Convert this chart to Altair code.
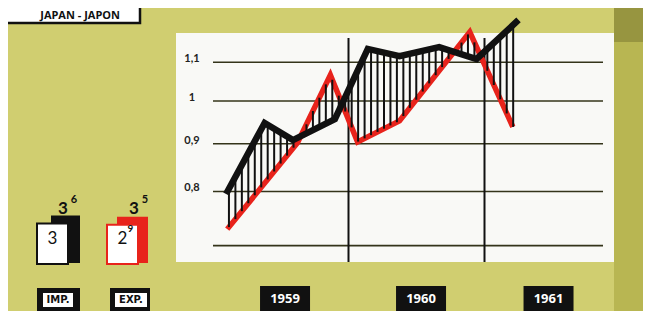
import altair as alt
import numpy as np
import pandas as pd

# ---------------- data (time = months since 1 Jan 1959) ----------------
imp_month = [1.2, 4.6, 7.1, 10.8, 13.7, 16.5, 20.0, 23.3, 27.0]
imp_index = [0.795, 0.947, 0.908, 0.956, 1.137, 1.117, 1.142, 1.109, 1.221]
exp_month = [1.3, 7.5, 10.4, 12.8, 16.5, 22.7, 26.5]
exp_index = [0.729, 0.902, 1.066, 0.904, 0.952, 1.185, 0.938]

grid_values = [1.1, 1.0, 0.9, 0.8, 0.7]
grid_labels = ["1,1", "1", "0,9", "0,8", ""]
years = ["1959", "1960", "1961"]
year_breaks = [12, 24]

legend_names = ["IMP.", "EXP."]
legend_prev = [3.0, 2.9]
legend_curr = [3.6, 3.5]
legend_colors = ["#111111", "#e8231b"]

title_text = "JAPAN - JAPON"

# ---------------- layout / style ----------------
BG = "#d0ce70"
PANEL = "#f9f9f6"
BLACK = "#111111"
RED = "#e8231b"
GRID_END_MONTH = 34.5

xsc = alt.Scale(domain=[0, 36], range=[204.5, 612.5], nice=False, zero=False)
ysc = alt.Scale(type="log", domain=[0.7, 1.1], range=[237.6, 54.3], nice=False)
lsc = alt.Scale(domain=[0, 3.6], range=[255, 207.5], nice=False, zero=False)

one = pd.DataFrame({"k": [0]})


def box(x, x2, y, y2, **kw):
    return alt.Chart(one).mark_rect(**kw).encode(
        x=alt.value(x), x2=alt.value(x2), y=alt.value(y), y2=alt.value(y2))


def label(text, x, y, **kw):
    return alt.Chart(one).mark_text(text=text, **kw).encode(
        x=alt.value(x), y=alt.value(y))


layers = []

# right darker strip and panel
layers.append(box(606, 635, 0, 303, color="#b8b652"))
layers.append(box(606, 635, 0, 34, color="#979540"))
layers.append(box(168, 606, 25, 254, color=PANEL))

# title box (top-left corner)
layers.append(box(-5, 132, -5, 15, fill="white", stroke=BLACK, strokeWidth=2.5))
layers.append(label(title_text, 112, 7.5, align="right", baseline="middle",
                    font="Open Sans", fontWeight="bold", fontSize=11, color=BLACK))

# gridlines
gdf = pd.DataFrame({"v": grid_values, "lab": grid_labels})
layers.append(alt.Chart(gdf).mark_rule(color="#34341a", strokeWidth=1.6).encode(
    x=alt.value(205), x2=alt.value(595),
    y=alt.Y("v:Q", scale=ysc, axis=None)))
layers.append(alt.Chart(gdf).mark_text(
    align="center", baseline="middle", dy=-3, fontSize=11, font="Lato",
    fontWeight="bold", color="#222222").encode(
    x=alt.value(184), y=alt.Y("v:Q", scale=ysc, axis=None), text="lab:N"))

# year separators
ydf = pd.DataFrame({"m": year_breaks})
layers.append(alt.Chart(ydf).mark_rule(color=BLACK, strokeWidth=2).encode(
    x=alt.X("m:Q", scale=xsc, axis=None), y=alt.value(30), y2=alt.value(254)))

# export line (red)
edf = pd.DataFrame({"m": exp_month, "v": exp_index})
layers.append(alt.Chart(edf).mark_line(color=RED, strokeWidth=5.5, strokeJoin="miter").encode(
    x=alt.X("m:Q", scale=xsc, axis=None), y=alt.Y("v:Q", scale=ysc, axis=None)))

# hatching between the two series
hx = np.arange(1.45, max(imp_month), 0.57)
htop = 10 ** np.interp(hx, imp_month, np.log10(imp_index))
hbot = 10 ** np.interp(hx, exp_month, np.log10(exp_index))
hdf = pd.DataFrame({"m": hx, "top": htop, "bot": hbot})
layers.append(alt.Chart(hdf).mark_rule(color=BLACK, strokeWidth=2).encode(
    x=alt.X("m:Q", scale=xsc, axis=None),
    y=alt.Y("top:Q", scale=ysc, axis=None), y2="bot:Q"))

# import line (black)
idf = pd.DataFrame({"m": imp_month, "v": imp_index})
layers.append(alt.Chart(idf).mark_line(color=BLACK, strokeWidth=6.5, strokeJoin="miter").encode(
    x=alt.X("m:Q", scale=xsc, axis=None), y=alt.Y("v:Q", scale=ysc, axis=None)))

# year labels in black boxes
mids = []
for i in range(len(years)):
    a = max(12 * i, 0)
    b = min(12 * i + 12, GRID_END_MONTH)
    mids.append((a + b) / 2 + 0.4)
yl = pd.DataFrame({"year": years, "mid": mids})
layers.append(alt.Chart(yl).mark_point(
    shape="M-1,-0.52L1,-0.52L1,0.52L-1,0.52Z", size=2500, filled=True,
    color=BLACK, opacity=1).encode(
    x=alt.X("mid:Q", scale=xsc, axis=None), y=alt.value(291)))
layers.append(alt.Chart(yl).mark_text(
    color="white", font="Open Sans", fontWeight="bold", fontSize=13,
    baseline="middle").encode(
    x=alt.X("mid:Q", scale=xsc, axis=None), y=alt.value(291), text="year:N"))

# legend icons (bar heights from values)
legend_layout = [
    dict(front=(29, 60), back=(43, 72), back_txt=55, tag=(29, 72, 35, 65), tagc=50),
    dict(front=(99, 130), back=(109, 140), back_txt=126, tag=(102, 142, 107, 139), tagc=123),
]


def split(v):
    s = f"{v:.1f}"
    a, b = s.split(".")
    return a, ("" if b == "0" else b)


for name, prev, curr, col, lay in zip(legend_names, legend_prev, legend_curr,
                                      legend_colors, legend_layout):
    ldf_b = pd.DataFrame({"v": [curr]})
    ldf_f = pd.DataFrame({"v": [prev]})
    layers.append(alt.Chart(ldf_b).mark_rect(color=col).encode(
        x=alt.value(lay["back"][0]), x2=alt.value(lay["back"][1]),
        y=alt.Y("v:Q", scale=lsc, axis=None), y2=alt.value(255)))
    layers.append(alt.Chart(ldf_f).mark_rect(fill="white", stroke=col, strokeWidth=2).encode(
        x=alt.value(lay["front"][0]), x2=alt.value(lay["front"][1]),
        y=alt.Y("v:Q", scale=lsc, axis=None), y2=alt.value(256)))
    # front value
    fa, fb = split(prev)
    fc = (lay["front"][0] + lay["front"][1]) / 2
    layers.append(label(fa, fc, 231, align="center", baseline="middle",
                        font="Lato", fontSize=17, color=BLACK))
    if fb:
        layers.append(label(fb, fc + 8, 221, align="center", baseline="middle",
                            font="Lato", fontWeight="bold", fontSize=10, color=BLACK))
    # back value
    ba, bb = split(curr)
    layers.append(label(ba, lay["back_txt"], 201, align="center", baseline="middle",
                        font="Lato", fontWeight="bold", fontSize=17, color=BLACK))
    if bb:
        layers.append(label(bb, lay["back_txt"] + 11, 192, align="center", baseline="middle",
                            font="Lato", fontWeight="bold", fontSize=11, color=BLACK))
    # tag
    x1, x2, ix1, ix2 = lay["tag"]
    layers.append(box(x1, x2, 280, 305, color=BLACK))
    layers.append(box(ix1, ix2, 285, 299, color="white"))
    layers.append(label(name, lay["tagc"], 292, align="center", baseline="middle",
                        font="DejaVu Sans", fontWeight="bold", fontSize=10, color=BLACK))

chart = alt.layer(*layers).resolve_scale(y="independent").properties(
    width=635, height=303, padding=0,
    autosize=alt.AutoSizeParams(type="none"),
    background=BG,
).configure_view(stroke=None)

chart.save("out.html", embed_options={"renderer": "svg", "actions": False})
